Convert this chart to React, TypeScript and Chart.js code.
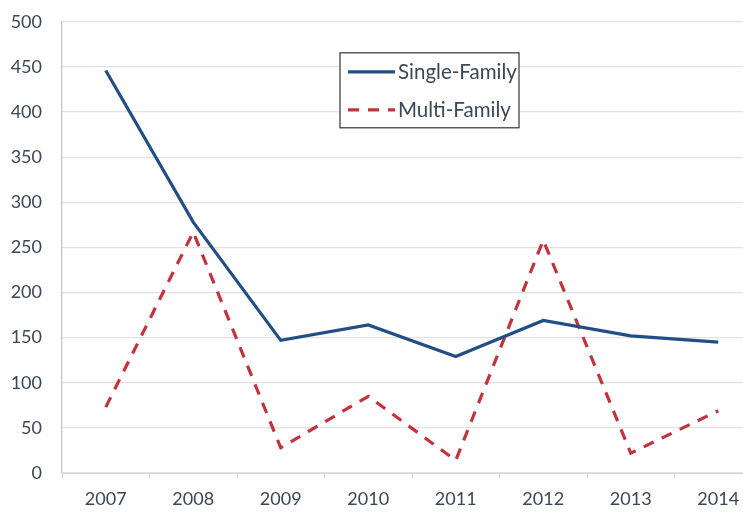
import React, { useEffect, useRef } from "react";
import { Chart, registerables } from "chart.js";

Chart.register(...registerables);

const years = ["2007", "2008", "2009", "2010", "2011", "2012", "2013", "2014"];
const singleFamily = [446, 278, 147, 164, 129, 169, 152, 145];
const multiFamily = [73, 267, 28, 85, 14, 258, 22, 69];
const yTicks = [0, 50, 100, 150, 200, 250, 300, 350, 400, 450, 500];

const FONT = "Lato, 'Open Sans', sans-serif";
const TEXT = "#3b4756";
const BLUE = "#214f85";
const RED = "#c4323c";

const legendPlugin = {
  id: "boxLegend",
  afterDraw(chart: any) {
    const { ctx, chartArea } = chart;
    const x0 = chartArea.left + 278;
    const y0 = chartArea.top + 31;
    const w = 179;
    const h = 75;
    ctx.save();
    ctx.fillStyle = "#ffffff";
    ctx.fillRect(x0, y0, w, h);
    ctx.strokeStyle = "#333333";
    ctx.lineWidth = 1.2;
    ctx.strokeRect(x0, y0, w, h);
    ctx.font = `20.5px ${FONT}`;
    ctx.textBaseline = "middle";
    chart.data.datasets.forEach((ds: any, i: number) => {
      const yy = y0 + 19 + i * 38;
      ctx.beginPath();
      ctx.strokeStyle = ds.borderColor;
      ctx.lineWidth = 3.2;
      ctx.setLineDash(ds.borderDash || []);
      ctx.moveTo(x0 + 8, yy);
      ctx.lineTo(x0 + 55, yy);
      ctx.stroke();
      ctx.setLineDash([]);
      ctx.fillStyle = TEXT;
      ctx.fillText(ds.label, x0 + 58, yy + 1);
    });
    ctx.restore();
  },
};

export default function App() {
  const ref = useRef<HTMLCanvasElement>(null);
  useEffect(() => {
    if (!ref.current) return;
    const chart = new Chart(ref.current, {
      type: "line",
      data: {
        labels: years,
        datasets: [
          {
            label: "Single-Family",
            data: singleFamily,
            borderColor: BLUE,
            borderWidth: 3.2,
            pointRadius: 0,
            tension: 0,
            fill: false,
          },
          {
            label: "Multi-Family",
            data: multiFamily,
            borderColor: RED,
            borderWidth: 3.2,
            borderDash: [11, 9],
            pointRadius: 0,
            tension: 0,
            fill: false,
          },
        ],
      },
      options: {
        animation: false,
        responsive: false,
        layout: { padding: { top: 13, right: 8, left: 0, bottom: 0 } },
        plugins: { legend: { display: false }, tooltip: { enabled: false } },
        scales: {
          x: {
            offset: true,
            grid: {
              offset: true,
              drawOnChartArea: false,
              drawTicks: true,
              tickLength: 5,
              color: "#cfcfcf",
            },
            border: { display: true, color: "#d6d6d6" },
            ticks: {
              color: TEXT,
              font: { family: FONT, size: 18 },
              padding: 10,
              maxRotation: 0,
            },
            afterFit(scale: any) {
              scale.height = 39;
            },
          },
          y: {
            min: 0,
            max: 500,
            afterBuildTicks(scale: any) {
              scale.ticks = yTicks.map((v) => ({ value: v }));
            },
            grid: { color: "#e2e2e2", lineWidth: 1.3, drawTicks: false },
            border: { display: true, color: "#c4c4c4", width: 1.3 },
            ticks: {
              color: TEXT,
              font: { family: FONT, size: 18 },
              padding: 20,
            },
            afterFit(scale: any) {
              scale.width = 62;
            },
          },
        },
      },
      plugins: [legendPlugin],
    });
    return () => chart.destroy();
  }, []);
  return (
    <div
      style={{
        position: "fixed",
        left: 0,
        top: 0,
        width: 743,
        height: 512,
        overflow: "hidden",
        background: "#fff",
      }}
    >
      <canvas
        ref={ref}
        width={770}
        height={521}
        style={{ display: "block", marginTop: -9 }}
      />
    </div>
  );
}
